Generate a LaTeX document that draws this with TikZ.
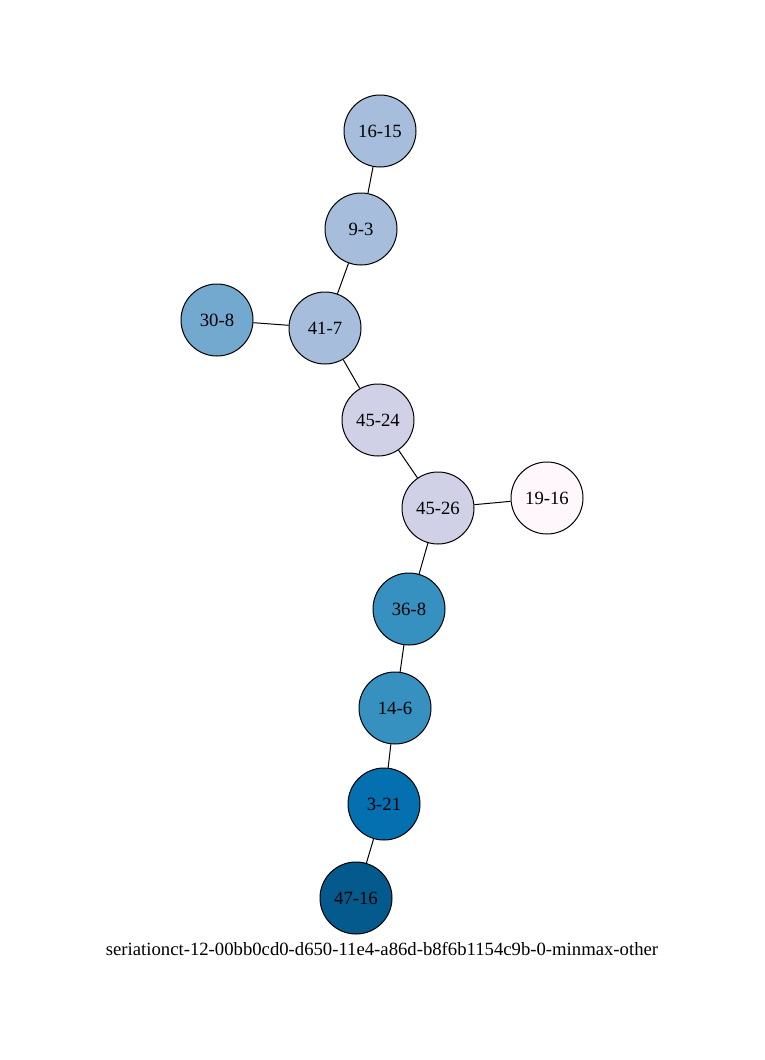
\documentclass[tikz,border=0pt]{standalone}
\usepackage{fontspec}
\setmainfont{Liberation Serif}
\begin{document}
\begin{tikzpicture}[x=1pt,y=-1pt,
  vertex/.style={circle,draw=black,line width=1pt,minimum size=72pt,inner sep=0pt,font=\fontsize{18.7}{21}\selectfont},
  edge/.style={draw=black,line width=1pt}]
\definecolor{cA}{HTML}{A6BDDB}
\definecolor{cB}{HTML}{74A9CF}
\definecolor{cC}{HTML}{D0D1E6}
\definecolor{cD}{HTML}{FFF7FB}
\definecolor{cE}{HTML}{3690C0}
\definecolor{cF}{HTML}{0570B0}
\definecolor{cG}{HTML}{045A8D}
\useasboundingbox (0,0) rectangle (765,1060);
\node[vertex,fill=cA] (n1615) at (380,131) {16-15};
\node[vertex,fill=cA] (n93) at (361,229) {9-3};
\node[vertex,fill=cB] (n308) at (217,320) {30-8};
\node[vertex,fill=cA] (n417) at (325,328) {41-7};
\node[vertex,fill=cC] (n4524) at (378,420) {45-24};
\node[vertex,fill=cC] (n4526) at (438,508) {45-26};
\node[vertex,fill=cD] (n1916) at (547,498) {19-16};
\node[vertex,fill=cE] (n368) at (409,609) {36-8};
\node[vertex,fill=cE] (n146) at (395,708) {14-6};
\node[vertex,fill=cF] (n321) at (384,804) {3-21};
\node[vertex,fill=cG] (n4716) at (356,898) {47-16};
\node[font=\fontsize{18.7}{21}\selectfont] (cap) at (382,949) {seriationct-12-00bb0cd0-d650-11e4-a86d-b8f6b1154c9b-0-minmax-other};
\path[edge] (n1615) -- (n93);
\path[edge] (n93) -- (n417);
\path[edge] (n308) -- (n417);
\path[edge] (n417) -- (n4524);
\path[edge] (n4524) -- (n4526);
\path[edge] (n4526) -- (n1916);
\path[edge] (n4526) -- (n368);
\path[edge] (n368) -- (n146);
\path[edge] (n146) -- (n321);
\path[edge] (n321) -- (n4716);
\end{tikzpicture}
\end{document}
